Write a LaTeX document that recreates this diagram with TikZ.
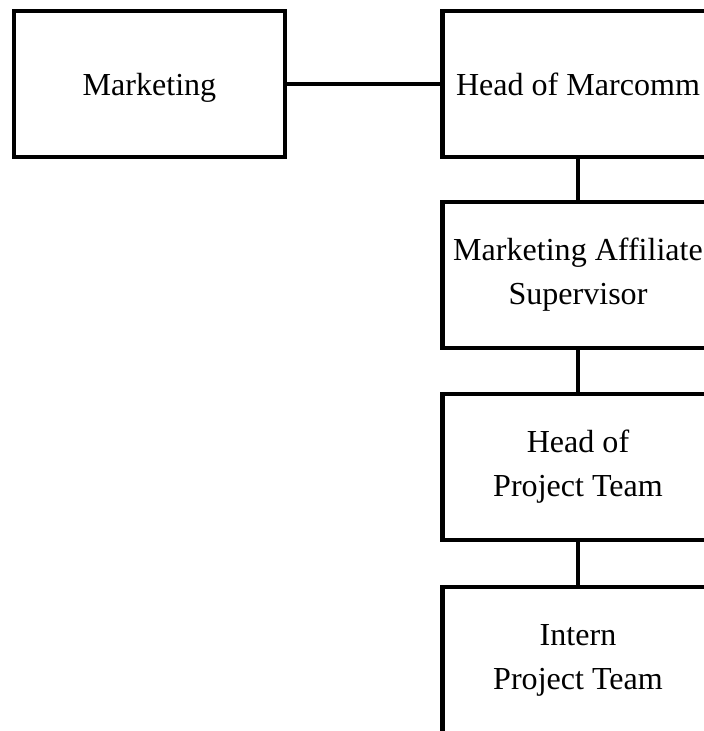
\documentclass[tikz,border=0pt]{standalone}
\usepackage{fontspec}
\setmainfont{Liberation Serif}
\usepackage{tikz}

\begin{document}
\begin{tikzpicture}[box/.style={draw,line width=3pt,minimum width=6.775cm,minimum height=3.65cm,align=center,outer sep=0pt,font=\fontsize{22.8}{31.3}\selectfont},
  onerow/.style={text height=20pt,text depth=3pt},
  link/.style={line width=3pt}]
\useasboundingbox (0,0) rectangle (17.575,18.275);
\node at (3.7375,16.175) [box,onerow] (marketing) {Marketing};
\node at (14.45,16.175) [box,onerow] (marcomm) {Head of Marcomm};
\node at (14.45,11.4) [box] (affiliate) {Marketing Affiliate\\Supervisor};
\node at (14.45,6.6) [box] (headteam) {Head of\\Project Team};
\node at (14.45,1.775) [box] (intern) {Intern\\Project Team};
\draw[link] (marketing) -- (marcomm);
\draw[link] (marcomm) -- (affiliate);
\draw[link] (affiliate) -- (headteam);
\draw[link] (headteam) -- (intern);
\end{tikzpicture}
\end{document}
